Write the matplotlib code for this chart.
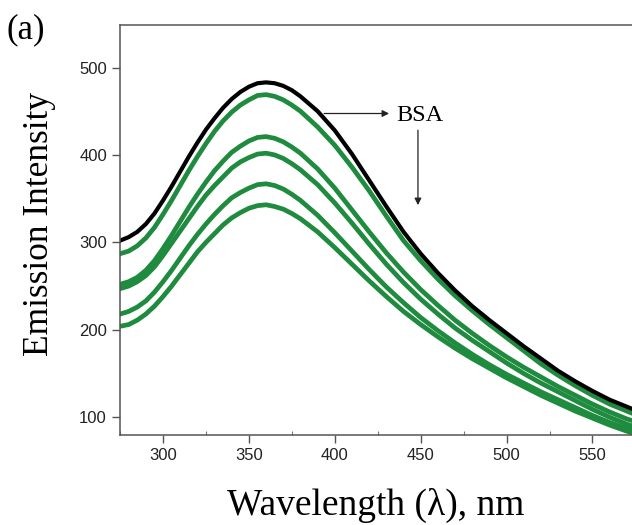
import matplotlib
matplotlib.use("Agg")
import matplotlib.pyplot as plt
from matplotlib.ticker import MultipleLocator

# wavelength grid (nm) shared by all spectra
wavelength = [275, 280, 285, 290, 295, 300, 305, 310, 315, 320, 325, 330, 335,
              340, 345, 350, 355, 360, 365, 370, 375, 380, 390, 400, 410, 420,
              430, 440, 450, 460, 470, 480, 490, 500, 510, 520, 530, 540, 550,
              560, 570, 575]

# free probe (black)
free = [302, 306, 312, 321, 333, 348, 364, 381, 398, 414, 429, 442, 454,
        464, 472, 478, 482, 483, 482, 479, 474, 467, 450, 428, 401, 371,
        341, 312, 287, 265, 245, 227, 211, 196, 181, 167, 153, 141, 130,
        120, 112, 108]

# with increasing BSA (green)
bsa_1 = [287, 290, 296, 305, 317, 332, 348, 365, 382, 398, 413, 427, 439,
         449, 457, 463, 468, 469, 467, 463, 457, 450, 432, 411, 386, 359,
         330, 302, 279, 258, 239, 222, 206, 191, 176, 161, 148, 136, 125,
         115, 107, 103]
bsa_2 = [252, 255, 260, 268, 279, 293, 308, 324, 340, 355, 369, 382, 393,
         403, 410, 416, 420, 421, 419, 415, 409, 402, 384, 362, 337, 312,
         288, 266, 246, 228, 211, 196, 182, 169, 157, 146, 135, 125, 115,
         106, 98, 95]
bsa_3 = [247, 250, 255, 262, 272, 285, 299, 313, 327, 341, 354, 365, 375,
         385, 392, 397, 401, 402, 400, 396, 390, 383, 366, 345, 322, 298,
         275, 254, 235, 218, 202, 188, 175, 162, 150, 139, 129, 119, 109,
         100, 92, 89]
bsa_4 = [218, 221, 226, 233, 243, 255, 268, 282, 296, 309, 321, 332, 342,
         351, 357, 362, 366, 367, 365, 361, 355, 348, 331, 311, 290, 269,
         249, 231, 214, 199, 185, 172, 160, 149, 139, 129, 120, 111, 102,
         94, 87, 84]
bsa_5 = [204, 206, 211, 218, 227, 238, 250, 263, 276, 289, 300, 310, 320,
         328, 334, 339, 342, 343, 341, 338, 333, 327, 312, 294, 275, 256,
         238, 221, 206, 192, 179, 167, 156, 145, 135, 125, 116, 107, 99,
         91, 84, 81]

green_series = [bsa_1, bsa_2, bsa_3, bsa_4, bsa_5]

serif = ["Liberation Serif", "DejaVu Serif"]
sans = ["Liberation Sans", "DejaVu Sans"]

fig = plt.figure(figsize=(6.32, 5.25), dpi=100)
ax = fig.add_axes([0.19, 0.172, 0.81, 0.781])

for s in green_series:
    ax.plot(wavelength, s, color="#1f8b3f", linewidth=3.4, solid_joinstyle="round")
ax.plot(wavelength, free, color="black", linewidth=3.0, solid_joinstyle="round")

ax.set_xlim(275, 573)
ax.set_ylim(80, 549)
ax.xaxis.set_major_locator(MultipleLocator(50))
ax.xaxis.set_minor_locator(MultipleLocator(25))
ax.yaxis.set_major_locator(MultipleLocator(100))

for side in ["left", "top", "bottom"]:
    ax.spines[side].set_color("#555555")
    ax.spines[side].set_linewidth(1.1)
ax.spines["right"].set_visible(False)

ax.tick_params(axis="both", which="major", direction="out", length=6,
               width=1, color="#555555", labelsize=12, labelcolor="#222222")
ax.tick_params(axis="x", which="minor", direction="in", length=3,
               width=0.8, color="#777777")
for lab in ax.get_xticklabels() + ax.get_yticklabels():
    lab.set_family(sans)

ax.set_xlabel("Wavelength (\u03bb), nm", family=serif, fontsize=27, labelpad=18)
ax.set_ylabel("Emission Intensity", family=serif, fontsize=25.5)
ax.yaxis.set_label_coords(-0.125, 0.515)

# BSA annotation arrows
ax.annotate("", xy=(431.6, 447.4), xytext=(393.8, 447.4),
            arrowprops=dict(arrowstyle="-|>", color="#222222", lw=0.9,
                            mutation_scale=10, shrinkA=0, shrinkB=0))
ax.text(435.5, 445.5, "BSA", family=serif, fontsize=17.5, va="center", ha="left")
ax.annotate("", xy=(448.4, 342.6), xytext=(448.4, 428.3),
            arrowprops=dict(arrowstyle="-|>", color="#222222", lw=0.9,
                            mutation_scale=10, shrinkA=0, shrinkB=0))

fig.text(0.011, 0.927, "(a)", family=serif, fontsize=25, ha="left", va="baseline")

fig.savefig("out.png", dpi=100)
